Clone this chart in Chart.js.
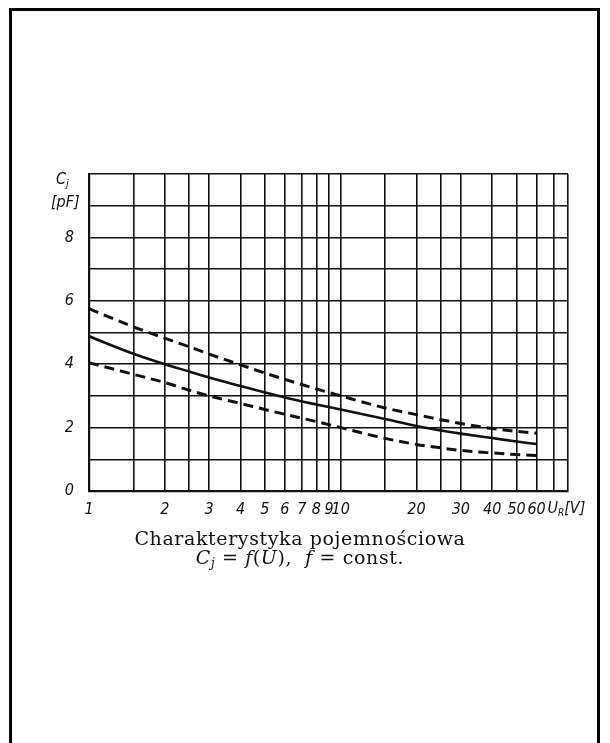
<!DOCTYPE html>
<html>
<head>
<meta charset="utf-8">
<script src="https://cdn.jsdelivr.net/npm/chart.js@4/dist/chart.umd.min.js"></script>
<style>
  html, body { margin: 0; padding: 0; background: #fff; }
  #wrap { position: relative; width: 610px; height: 743px; overflow: hidden; }
  #frame { position: absolute; left: 9px; top: 8px; width: 585px; height: 760px;
           border: 3px solid #000; }
  canvas { position: absolute; left: 0; top: 0; }
  #caption { position: absolute; left: 0; width: 600px; top: 529px; text-align: center;
             font-family: 'DejaVu Serif', serif; font-size: 19px; letter-spacing: 0.6px; line-height: 19px; color: #111; }
  #caption i { font-style: italic; }
  #caption sub { font-size: 12px; vertical-align: -3px; line-height: 0; }
</style>
</head>
<body>
<div id="wrap">
  <div id="frame"></div>
  <canvas id="c" width="610" height="743"></canvas>
  <div id="caption">Charakterystyka pojemnościowa<br><i>C<sub>j</sub></i> = <i>f</i>(<i>U</i>),&nbsp; <i>f</i> = const.</div>
</div>
<script>
// Reverse voltage U_R [V]
const voltage    = [1, 1.5, 2, 2.5, 3, 4, 5, 6, 8, 10, 15, 20, 25, 30, 40, 50, 60];
// Junction capacitance Cj [pF]
const capUpper   = [5.75, 5.18, 4.82, 4.55, 4.32, 3.98, 3.72, 3.52, 3.22, 3.0, 2.62, 2.41, 2.25, 2.13, 1.97, 1.88, 1.82];
const capTypical = [4.88, 4.33, 4.0, 3.77, 3.58, 3.31, 3.11, 2.95, 2.73, 2.57, 2.27, 2.05, 1.91, 1.81, 1.67, 1.56, 1.48];
const capLower   = [4.05, 3.68, 3.42, 3.18, 3.0, 2.76, 2.57, 2.42, 2.19, 2.0, 1.66, 1.47, 1.36, 1.28, 1.2, 1.15, 1.12];

// Axis grid / ticks
const xGrid = [1, 1.5, 2, 2.5, 3, 4, 5, 6, 7, 8, 9, 10, 15, 20, 25, 30, 40, 50, 60, 70, 80];
const xLabels = [1, 2, 3, 4, 5, 6, 7, 8, 9, 10, 20, 30, 40, 50, 60];
const yGrid = [0, 1, 2, 3, 4, 5, 6, 7, 8, 9, 10];
const yLabels = [0, 2, 4, 6, 8];

const FAM = "'DejaVu Sans Condensed', 'DejaVu Sans', sans-serif";
const tickFont = { family: FAM, size: 16, style: 'italic', weight: 'condensed' };

function pts(ys) { return voltage.map((v, i) => ({ x: v, y: ys[i] })); }

const axisLabels = {
  id: 'axisLabels',
  afterDraw(chart) {
    const ctx = chart.ctx;
    const xs = chart.scales.x, ys = chart.scales.y;
    ctx.save();
    ctx.fillStyle = '#111';
    ctx.textBaseline = 'middle';
    const f = (s) => "italic condensed " + s + "px " + FAM;
    // y-axis title
    ctx.font = f(16);
    ctx.textAlign = 'left';
    ctx.fillText('C', 56, ys.getPixelForValue(9.8));
    ctx.font = f(11);
    ctx.fillText('j', 66, ys.getPixelForValue(9.8) + 4);
    ctx.font = f(16);
    ctx.fillText('[pF]', 51, ys.getPixelForValue(9.1));
    // x-axis title
    const xp = xs.getPixelForValue(70) - 6;
    const yp = xs.top + 18;
    ctx.font = f(16);
    ctx.fillText('U', xp, yp);
    let w = ctx.measureText('U').width;
    ctx.font = f(10);
    ctx.fillText('R', xp + w, yp + 4);
    let w2 = ctx.measureText('R').width;
    ctx.font = f(16);
    ctx.fillText('[V]', xp + w + w2, yp);
    ctx.restore();
  }
};

new Chart(document.getElementById('c'), {
  type: 'scatter',
  data: {
    datasets: [
      { data: pts(capUpper), showLine: true, borderColor: '#111', borderWidth: 3, borderDash: [10, 6], pointRadius: 0, cubicInterpolationMode: 'monotone' },
      { data: pts(capTypical), showLine: true, borderColor: '#111', borderWidth: 2.6, pointRadius: 0, cubicInterpolationMode: 'monotone' },
      { data: pts(capLower), showLine: true, borderColor: '#111', borderWidth: 3, borderDash: [10, 6], pointRadius: 0, cubicInterpolationMode: 'monotone' }
    ]
  },
  options: {
    responsive: false,
    animation: false,
    devicePixelRatio: 1,
    layout: { padding: { left: 40, right: 42, top: 174, bottom: 222 } },
    plugins: { legend: { display: false }, tooltip: { enabled: false }, title: { display: false } },
    scales: {
      x: {
        type: 'logarithmic', min: 1, max: 80,
        afterBuildTicks: (s) => { s.ticks = xGrid.map(v => ({ value: v })); },
        afterFit: (s) => { s.height = 30; },
        ticks: {
          autoSkip: false, maxRotation: 0, color: '#111', font: tickFont, padding: 9,
          callback: (v) => xLabels.includes(v) ? String(v) : ''
        },
        grid: { color: '#111', lineWidth: 1.6, drawTicks: false },
        border: { display: true, color: '#111', width: 2.2 }
      },
      y: {
        type: 'linear', min: 0, max: 10,
        afterBuildTicks: (s) => { s.ticks = yGrid.map(v => ({ value: v })); },
        afterFit: (s) => { s.width = 49; },
        ticks: {
          color: '#111', font: tickFont, padding: 15,
          callback: (v) => yLabels.includes(v) ? String(v) : ''
        },
        grid: { color: '#111', lineWidth: 1.6, drawTicks: false },
        border: { display: true, color: '#111', width: 2.2 }
      }
    }
  },
  plugins: [axisLabels]
});
</script>
</body>
</html>
